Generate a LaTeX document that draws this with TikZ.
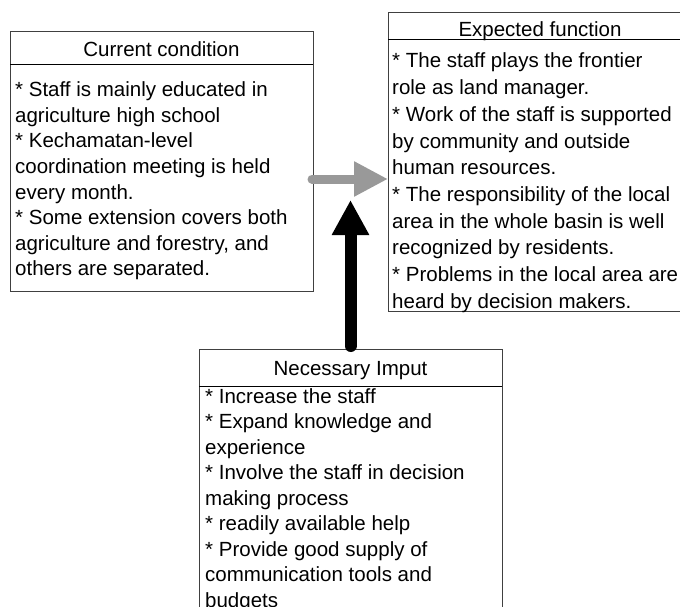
\documentclass[tikz,border=0pt]{standalone}
\usepackage{fontspec}
\setmainfont{Liberation Sans}
\usetikzlibrary{arrows.meta}
\definecolor{arrgray}{gray}{0.6}
\begin{document}
\begin{tikzpicture}[x=1pt,y=-1pt,
  frame/.style={draw=black!75, line width=1pt, anchor=north west, inner sep=0pt, outer sep=0pt},
  sep/.style={draw=black, line width=1pt},
  title/.style={anchor=base, inner sep=0pt, font=\fontsize{20.5}{24}\selectfont},
  body/.style={anchor=base west, inner sep=0pt, font=\fontsize{20.5}{24}\selectfont}]
\path[use as bounding box] (0,0) rectangle (680,607);
\clip (0,0) rectangle (680,607);

% Current condition
\node[frame, minimum width=303pt, minimum height=259pt] (ccbox) at (10,32) {};
\draw[sep] ([yshift=-33pt]ccbox.north west) -- ([yshift=-33pt]ccbox.north east);
\node[title] (cctitle) at (161.5,57) {Current condition};
\foreach \t [count=\i] in {{* Staff is mainly educated in},{agriculture high school},{* Kechamatan-level},{coordination meeting is held},{every month.},{* Some extension covers both},{agriculture and forestry, and},{others are separated.}}
  \node[body] (cc\i) at (15,{97+(\i-1)*25.5}) {\t};

% Expected function
\node[frame, minimum width=304pt, minimum height=298pt] (efbox) at (388,13) {};
\draw[sep] ([yshift=-27pt]efbox.north west) -- ([yshift=-27pt]efbox.north east);
\node[title] (eftitle) at (540,36.5) {Expected function};
\foreach \t [count=\i] in {{* The staff plays the frontier},{role as land manager.},{* Work of the staff is supported},{by community and outside},{human resources.},{* The responsibility of the local},{area in the whole basin is well},{recognized by residents.},{* Problems in the local area are},{heard by decision makers.}}
  \node[body] (ef\i) at (392,{68+(\i-1)*26.7}) {\t};

% Necessary Imput
\node[frame, minimum width=303pt, minimum height=300pt] (nibox) at (199,349) {};
\draw[sep] ([yshift=-37pt]nibox.north west) -- ([yshift=-37pt]nibox.north east);
\node[title] (nititle) at (350.5,375) {Necessary Imput};
\foreach \t [count=\i] in {{* Increase the staff},{* Expand knowledge and},{experience},{* Involve the staff in decision},{making process},{* readily available help},{* Provide good supply of},{communication tools and},{budgets}}
  \node[body] (ni\i) at (205,{403+(\i-1)*25.5}) {\t};

% Arrows
\coordinate (ya) at (0,179);
\coordinate (btip) at (350.5,200);
\draw[draw=arrgray, fill=arrgray, line width=9pt, line cap=round,
  -{Triangle[length=34pt,width=33pt]}] ([xshift=-1pt]ccbox.east |- ya) -- (efbox.west |- ya);
\draw[draw=black, fill=black, line width=12pt, line cap=round,
  -{Triangle[length=35pt,width=35pt]}] ([yshift=3pt]nibox.north) -- (btip);
\end{tikzpicture}
\end{document}
